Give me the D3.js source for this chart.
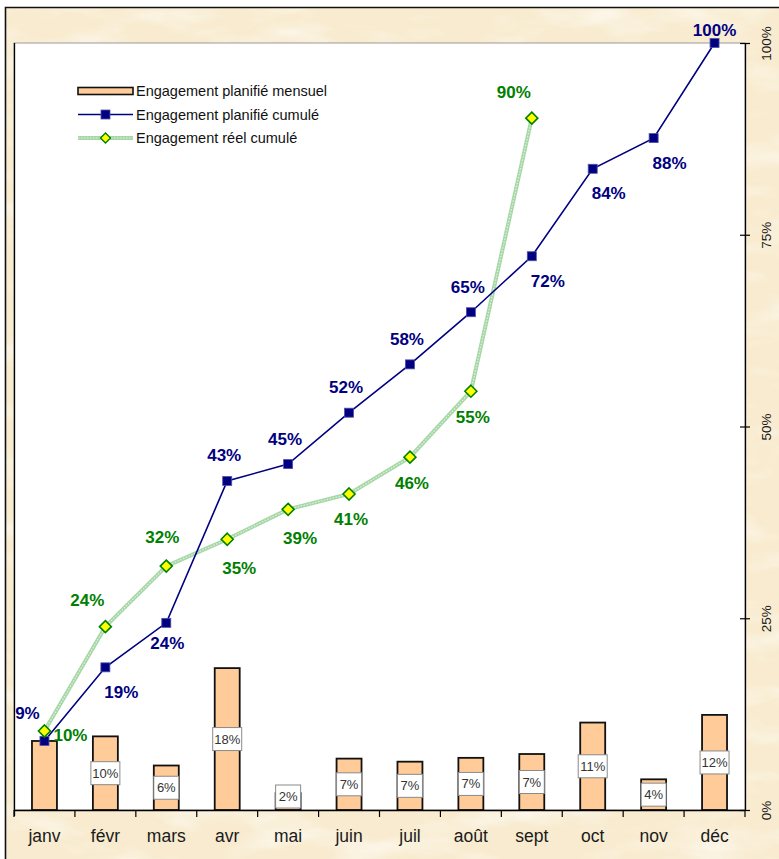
<!DOCTYPE html>
<html>
<head>
<meta charset="utf-8">
<script src="https://cdn.jsdelivr.net/npm/d3@7"></script>
<style>
  html, body { margin: 0; padding: 0; background: #ffffff; }
  svg { display: block; }
  text { font-family: "Liberation Sans", Arial, sans-serif; }
</style>
</head>
<body>
<svg id="chart" width="779" height="859"></svg>
<script>
// ---- DATA ----
const months = ["janv", "févr", "mars", "avr", "mai", "juin", "juil", "août", "sept", "oct", "nov", "déc"];
const monthlyPlanned = [0.09, 0.096, 0.058, 0.185, 0.022, 0.067, 0.063, 0.068, 0.073, 0.114, 0.040, 0.124];
const monthlyLabels = [null, "10%", "6%", "18%", "2%", "7%", "7%", "7%", "7%", "11%", "4%", "12%"];
const cumulPlanned = [0.09, 0.186, 0.244, 0.429, 0.451, 0.518, 0.581, 0.649, 0.722, 0.836, 0.876, 1.00];
const cumulPlannedLabels = ["9%", "19%", "24%", "43%", "45%", "52%", "58%", "65%", "72%", "84%", "88%", "100%"];
const cumulReal = [0.103, 0.239, 0.318, 0.353, 0.392, 0.412, 0.46, 0.546, 0.902];
const cumulRealLabels = ["10%", "24%", "32%", "35%", "39%", "41%", "46%", "55%", "90%"];
const yTicks = [0, 0.25, 0.5, 0.75, 1];
const seriesNames = ["Engagement planifié mensuel", "Engagement planifié cumulé", "Engagement réel cumulé"];
// label placement codes (style)
const plannedPlace = ["ul", "dr", "d", "u", "u", "u", "u", "u", "dr", "dr", "dr", "ut"];
const realPlace = ["r", "ul", "u", "dr", "dr", "d", "d", "d", "ul"];

// ---- LAYOUT ----
const svg = d3.select("#chart");
const W = 779, H = 859;
const plot = { left: 14, right: 745, top: 43, bottom: 810 };

const defs = svg.append("defs");
const f = defs.append("filter").attr("id", "paper").attr("x", 0).attr("y", 0).attr("width", 1).attr("height", 1);
f.append("feTurbulence").attr("type", "fractalNoise").attr("baseFrequency", "0.012 0.035").attr("numOctaves", 4).attr("seed", 7).attr("result", "n");
f.append("feColorMatrix").attr("in", "n").attr("type", "matrix")
  .attr("values", "0 0 0 0 1  0 0 0 0 0.985  0 0 0 0 0.94  1.6 0 0 0 -0.75");

// outer chart area (parchment)
svg.append("rect").attr("x", 0).attr("y", 0).attr("width", W).attr("height", H).attr("fill", "#ffffff");
svg.append("rect").attr("x", 5).attr("y", 7).attr("width", W).attr("height", H).attr("fill", "#f8ebcf");
svg.append("rect").attr("x", 5).attr("y", 7).attr("width", W).attr("height", H).attr("filter", "url(#paper)");
svg.append("path").attr("d", `M5.5,${H} V7.5 H${W}`).attr("fill", "none").attr("stroke", "#111").attr("stroke-width", 1.6);

// plot area
svg.append("rect").attr("x", plot.left).attr("y", plot.top)
  .attr("width", plot.right - plot.left).attr("height", plot.bottom - plot.top)
  .attr("fill", "#ffffff").attr("stroke", "#9a9a9a").attr("stroke-width", 1);

const x = d3.scaleBand().domain(months).range([plot.left, plot.right]).paddingInner(0).paddingOuter(0);
const y = d3.scaleLinear().domain([0, 1]).range([plot.bottom, plot.top]);
const step = x.step();
const barW = step * 0.41;
const cx = m => x(m) + step / 2;

// left axis line
svg.append("line").attr("x1", plot.left + 0.5).attr("x2", plot.left + 0.5)
  .attr("y1", plot.top).attr("y2", plot.bottom + 6).attr("stroke", "#000").attr("stroke-width", 1.3);

// bars
svg.append("g").selectAll("rect").data(monthlyPlanned).join("rect")
  .attr("x", (d, i) => cx(months[i]) - barW / 2)
  .attr("y", d => y(d))
  .attr("width", barW)
  .attr("height", d => y(0) - y(d))
  .attr("fill", "#ffcc99").attr("stroke", "#111").attr("stroke-width", 1.8);

// bar labels
const bl = svg.append("g");
monthlyPlanned.forEach((d, i) => {
  const lab = monthlyLabels[i];
  if (!lab) return;
  const bw = lab.length >= 3 ? 29 : 25, bh = 23;
  let cy = (y(d) + y(0)) / 2;
  cy = Math.min(cy, plot.bottom - 2 - bh / 2);
  const c = cx(months[i]);
  bl.append("rect").attr("x", c - bw / 2).attr("y", cy - bh / 2).attr("width", bw).attr("height", bh)
    .attr("fill", "#ffffff").attr("stroke", "#8a8a8a").attr("stroke-width", 1);
  bl.append("text").attr("x", c).attr("y", cy).attr("text-anchor", "middle").attr("dominant-baseline", "central")
    .attr("font-size", 13).attr("fill", "#333").text(lab);
});

// x axis
const xg = svg.append("g").attr("transform", `translate(0,${plot.bottom})`);
xg.append("line").attr("x1", plot.left).attr("x2", plot.right).attr("y1", 0.5).attr("y2", 0.5).attr("stroke", "#000").attr("stroke-width", 1.3);
xg.selectAll("line.tk").data(d3.range(months.length + 1)).join("line").attr("class", "tk")
  .attr("x1", i => plot.left + i * step).attr("x2", i => plot.left + i * step)
  .attr("y1", 0).attr("y2", 7).attr("stroke", "#000").attr("stroke-width", 1.2);
const xAxis = d3.axisBottom(x).tickSize(0).tickPadding(0);
const xa = svg.append("g").attr("transform", `translate(0,${plot.bottom})`).call(xAxis);
xa.select(".domain").remove();
xa.selectAll("text").attr("y", 26).attr("dy", null).attr("dominant-baseline", "central")
  .attr("font-size", 17.5).attr("fill", "#1a1a1a").attr("font-family", "Liberation Sans, Arial, sans-serif");

// right axis
const yAxis = d3.axisRight(y).tickValues(yTicks).tickFormat(d3.format(".0%")).tickSize(5).tickPadding(0);
const ya = svg.append("g").attr("transform", `translate(${plot.right},0)`).call(yAxis);
ya.select(".domain").attr("stroke", "#000").attr("stroke-width", 1.3).attr("d", `M0.5,${plot.top}V${plot.bottom}`);
ya.selectAll(".tick line").attr("x1", -5).attr("x2", 5).attr("stroke", "#000").attr("stroke-width", 1.2);
ya.selectAll(".tick text").attr("transform", "translate(21,0) rotate(-90)").attr("x", 0).attr("dy", "0.35em")
  .attr("text-anchor", "middle").attr("font-size", 13.5).attr("fill", "#1a1a1a")
  .attr("font-family", "Liberation Sans, Arial, sans-serif");

// real cumulative line
const lineGen = d3.line().x(d => d[0]).y(d => d[1]);
const realPts = cumulReal.map((v, i) => [cx(months[i]), y(v)]);
svg.append("path").attr("d", lineGen(realPts)).attr("fill", "none").attr("stroke", "#a6d7a6").attr("stroke-width", 4);
svg.append("path").attr("d", lineGen(realPts)).attr("fill", "none").attr("stroke", "#e2f2e2").attr("stroke-width", 1.2).attr("stroke-dasharray", "1.5,1.5");

// planned cumulative line
const planPts = cumulPlanned.map((v, i) => [cx(months[i]), y(v)]);
svg.append("path").attr("d", lineGen(planPts)).attr("fill", "none").attr("stroke", "#000080").attr("stroke-width", 1.6);

// markers
svg.append("g").selectAll("rect").data(planPts).join("rect")
  .attr("x", d => d[0] - 4.5).attr("y", d => d[1] - 4.5).attr("width", 9).attr("height", 9)
  .attr("fill", "#000080").attr("stroke", "#5050a8").attr("stroke-width", 0.8);
svg.append("g").selectAll("path").data(realPts).join("path")
  .attr("d", d => `M${d[0]},${d[1] - 6}L${d[0] + 6},${d[1]}L${d[0]},${d[1] + 6}L${d[0] - 6},${d[1]}Z`)
  .attr("fill", "#ffff00").attr("stroke", "#008000").attr("stroke-width", 1.6);

// data labels
const off = {
  ul: [-17, -27], u: [-3, -25], ut: [0, -13], d: [1, 21], dr: [16, 25], r: [26, 5]
};
const realOff = { r: [26, 5], ul: [-18, -26], u: [-4, -29], dr: [12, 29], d: [2, 26] };
planPts.forEach((p, i) => {
  const o = off[plannedPlace[i]];
  svg.append("text").attr("x", p[0] + o[0]).attr("y", p[1] + o[1]).attr("text-anchor", "middle")
    .attr("dominant-baseline", "central").attr("font-size", 17).attr("font-weight", "bold")
    .attr("fill", "#000080").text(cumulPlannedLabels[i]);
});
realPts.forEach((p, i) => {
  const o = realOff[realPlace[i]];
  svg.append("text").attr("x", p[0] + o[0]).attr("y", p[1] + o[1]).attr("text-anchor", "middle")
    .attr("dominant-baseline", "central").attr("font-size", 17).attr("font-weight", "bold")
    .attr("fill", "#008000").text(cumulRealLabels[i]);
});

// legend
const lg = svg.append("g").attr("transform", "translate(78,91)");
const rowH = 23.5;
lg.append("rect").attr("x", 0).attr("y", -3.5).attr("width", 55).attr("height", 7)
  .attr("fill", "#ffcc99").attr("stroke", "#111").attr("stroke-width", 1.6);
lg.append("line").attr("x1", 0).attr("x2", 55).attr("y1", rowH).attr("y2", rowH).attr("stroke", "#000080").attr("stroke-width", 1.6);
lg.append("rect").attr("x", 27.5 - 4.5).attr("y", rowH - 4.5).attr("width", 9).attr("height", 9)
  .attr("fill", "#000080").attr("stroke", "#5050a8").attr("stroke-width", 0.8);
lg.append("line").attr("x1", 0).attr("x2", 55).attr("y1", 2 * rowH).attr("y2", 2 * rowH).attr("stroke", "#a6d7a6").attr("stroke-width", 4);
lg.append("line").attr("x1", 0).attr("x2", 55).attr("y1", 2 * rowH).attr("y2", 2 * rowH).attr("stroke", "#e2f2e2").attr("stroke-width", 1.2).attr("stroke-dasharray", "1.5,1.5");
lg.append("path").attr("d", `M27.5,${2 * rowH - 5}L32.5,${2 * rowH}L27.5,${2 * rowH + 5}L22.5,${2 * rowH}Z`)
  .attr("fill", "#ffff00").attr("stroke", "#008000").attr("stroke-width", 1.4);
seriesNames.forEach((n, i) => {
  lg.append("text").attr("x", 58).attr("y", i * rowH).attr("dominant-baseline", "central")
    .attr("font-size", 14.5).attr("fill", "#111").text(n);
});
</script>
</body>
</html>
